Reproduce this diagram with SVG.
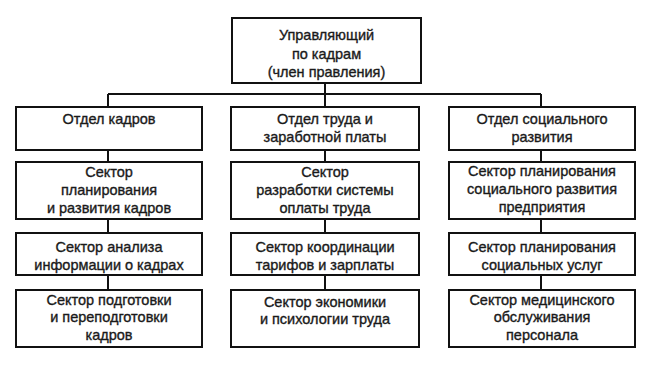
<svg xmlns="http://www.w3.org/2000/svg" width="655" height="366" viewBox="0 0 655 366">
<style>
.box{fill:#fff;stroke:#111;stroke-width:2}
.t{font-family:"Liberation Sans",Arial,sans-serif;font-size:14.5px;fill:#1a1a1a;stroke:#1a1a1a;stroke-width:0.35;text-anchor:middle}
.c{stroke:#111;stroke-width:2;fill:none}
</style>
<rect width="655" height="366" fill="#fff"/>
<g id="connectors">
<path class="c" d="M325 83V94M108 94H541M108 94V107M325 94V107M541 94V107"/>
<path class="c" d="M108 150V162M108 219V233M108 275V290"/>
<path class="c" d="M325 150V162M325 219V233M325 275V290"/>
<path class="c" d="M541 150V162M541 219V233M541 275V290"/>
</g>
<g id="head">
<rect class="box" x="232" y="18" width="189" height="65"/>
<text class="t" x="326.5" y="40">Управляющий</text>
<text class="t" x="326.5" y="58.5">по кадрам</text>
<text class="t" x="326.5" y="77">(член правления)</text>
</g>
<g id="dept-hr">
<rect class="box" x="16" y="107" width="186" height="43"/>
<text class="t" x="109" y="124">Отдел кадров</text>
</g>
<g id="dept-labor">
<rect class="box" x="231" y="107" width="188" height="43"/>
<text class="t" x="325" y="124">Отдел труда и</text>
<text class="t" x="325" y="142">заработной платы</text>
</g>
<g id="dept-social">
<rect class="box" x="449" y="107" width="186" height="43"/>
<text class="t" x="542" y="124">Отдел социального</text>
<text class="t" x="542" y="142">развития</text>
</g>
<g id="s-hr-1">
<rect class="box" x="16" y="162" width="186" height="57"/>
<text class="t" x="109" y="177">Сектор</text>
<text class="t" x="109" y="195">планирования</text>
<text class="t" x="109" y="213">и развития кадров</text>
</g>
<g id="s-labor-1">
<rect class="box" x="231" y="162" width="188" height="57"/>
<text class="t" x="325" y="177">Сектор</text>
<text class="t" x="325" y="195">разработки системы</text>
<text class="t" x="325" y="213">оплаты труда</text>
</g>
<g id="s-social-1">
<rect class="box" x="449" y="162" width="186" height="57"/>
<text class="t" x="542" y="176">Сектор планирования</text>
<text class="t" x="542" y="194">социального развития</text>
<text class="t" x="542" y="212">предприятия</text>
</g>
<g id="s-hr-2">
<rect class="box" x="16" y="233" width="186" height="42"/>
<text class="t" x="109" y="252">Сектор анализа</text>
<text class="t" x="109" y="270">информации о кадрах</text>
</g>
<g id="s-labor-2">
<rect class="box" x="231" y="233" width="188" height="42"/>
<text class="t" x="325" y="252">Сектор координации</text>
<text class="t" x="325" y="270">тарифов и зарплаты</text>
</g>
<g id="s-social-2">
<rect class="box" x="449" y="233" width="186" height="42"/>
<text class="t" x="542" y="252">Сектор планирования</text>
<text class="t" x="542" y="270">социальных услуг</text>
</g>
<g id="s-hr-3">
<rect class="box" x="16" y="290" width="186" height="57"/>
<text class="t" x="109" y="305">Сектор подготовки</text>
<text class="t" x="109" y="322">и переподготовки</text>
<text class="t" x="109" y="340">кадров</text>
</g>
<g id="s-labor-3">
<rect class="box" x="231" y="290" width="188" height="57"/>
<text class="t" x="325" y="307">Сектор экономики</text>
<text class="t" x="325" y="324">и психологии труда</text>
</g>
<g id="s-social-3">
<rect class="box" x="449" y="290" width="186" height="57"/>
<text class="t" x="542" y="305">Сектор медицинского</text>
<text class="t" x="542" y="322">обслуживания</text>
<text class="t" x="542" y="340">персонала</text>
</g>
</svg>
